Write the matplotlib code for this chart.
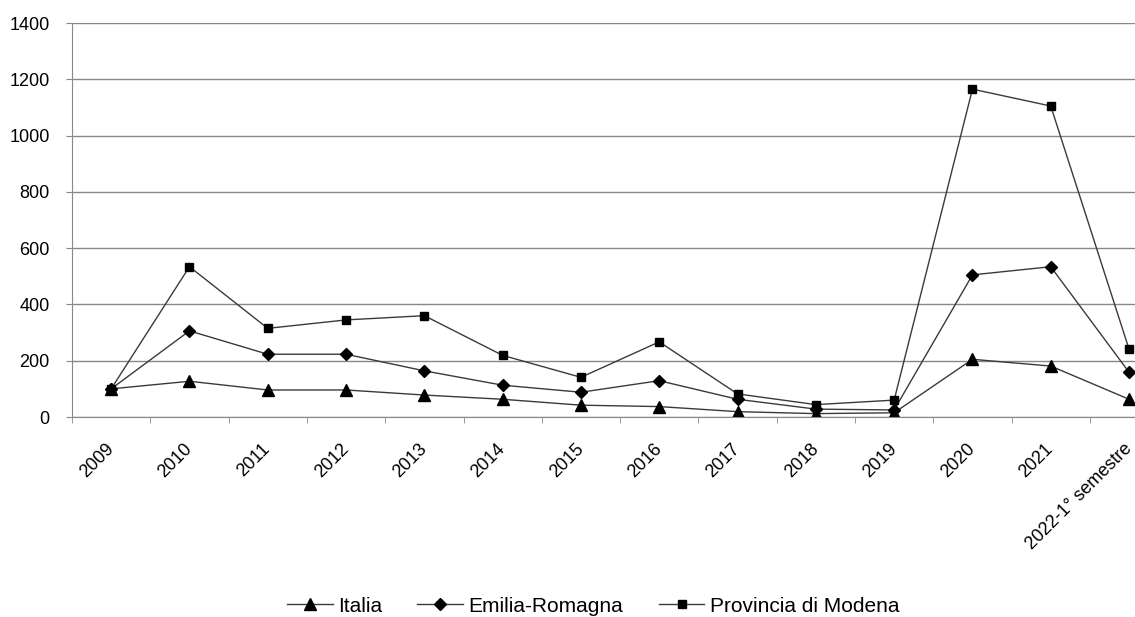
import matplotlib as mp
mp.use("Agg")
import matplotlib.pyplot as plt
from matplotlib.transforms import ScaledTranslation

mp.rcParams.update({
    "font.family": ["Liberation Sans", "DejaVu Sans"],
    "font.size": 13,
})

categorie = ["2009", "2010", "2011", "2012", "2013", "2014", "2015", "2016",
             "2017", "2018", "2019", "2020", "2021", "2022-1° semestre"]
italia = [100, 127, 96, 96, 78, 63, 42, 37, 19, 12, 15, 205, 181, 63]
emilia_romagna = [100, 306, 223, 223, 164, 113, 88, 129, 63, 28, 25, 505, 534, 159]
modena = [100, 534, 315, 345, 360, 219, 141, 267, 82, 44, 60, 1165, 1105, 241]

fig = plt.figure(figsize=(11.35, 6.17), dpi=100)
ax = fig.add_axes([72 / 1135, 200 / 617, 1 - 72 / 1135, 394 / 617])

x = list(range(len(categorie)))
line_col = "#3a3a3a"
ax.plot(x, italia, color=line_col, lw=1.0, marker="^", ms=8,
        mfc="black", mec="black", label="Italia")
ax.plot(x, emilia_romagna, color=line_col, lw=1.0, marker="D", ms=6.5,
        mfc="black", mec="black", label="Emilia-Romagna")
ax.plot(x, modena, color=line_col, lw=1.0, marker="s", ms=5.5,
        mfc="black", mec="black", label="Provincia di Modena")

ax.set_yticks(range(0, 1401, 200))
ax.set_xticks(x)
ax.set_xticklabels(categorie, rotation=45, ha="right", va="top",
                   rotation_mode="anchor")
ax.set_xticks([i + 0.5 for i in range(-1, len(categorie))], minor=True)
ax.set_ylim(0, 1400)
ax.set_xlim(-0.5, (1135 - 72) / 78.3 - 0.5)
ax.tick_params(axis="x", which="major", length=0, pad=17)
ax.tick_params(axis="x", which="minor", length=4, color="#888888")
ax.tick_params(axis="y", length=4, color="#888888", pad=12)

# spostamento a sinistra delle etichette ruotate
shift = ScaledTranslation(-6 / 100, 0, fig.dpi_scale_trans)
for lab in ax.get_xticklabels():
    lab.set_transform(lab.get_transform() + shift)

ax.grid(axis="y", color="#888888", lw=1.0)
ax.set_axisbelow(True)
for side in ["top", "right"]:
    ax.spines[side].set_visible(False)
for side in ["left", "bottom"]:
    ax.spines[side].set_color("#888888")

fig.legend(loc="center", bbox_to_anchor=(593 / 1135, 1 - 606 / 617), ncol=3,
           frameon=False, fontsize=15, handlelength=2.2, handletextpad=0.25,
           columnspacing=1.7, borderpad=0)

plt.savefig("out.png", dpi=100)
